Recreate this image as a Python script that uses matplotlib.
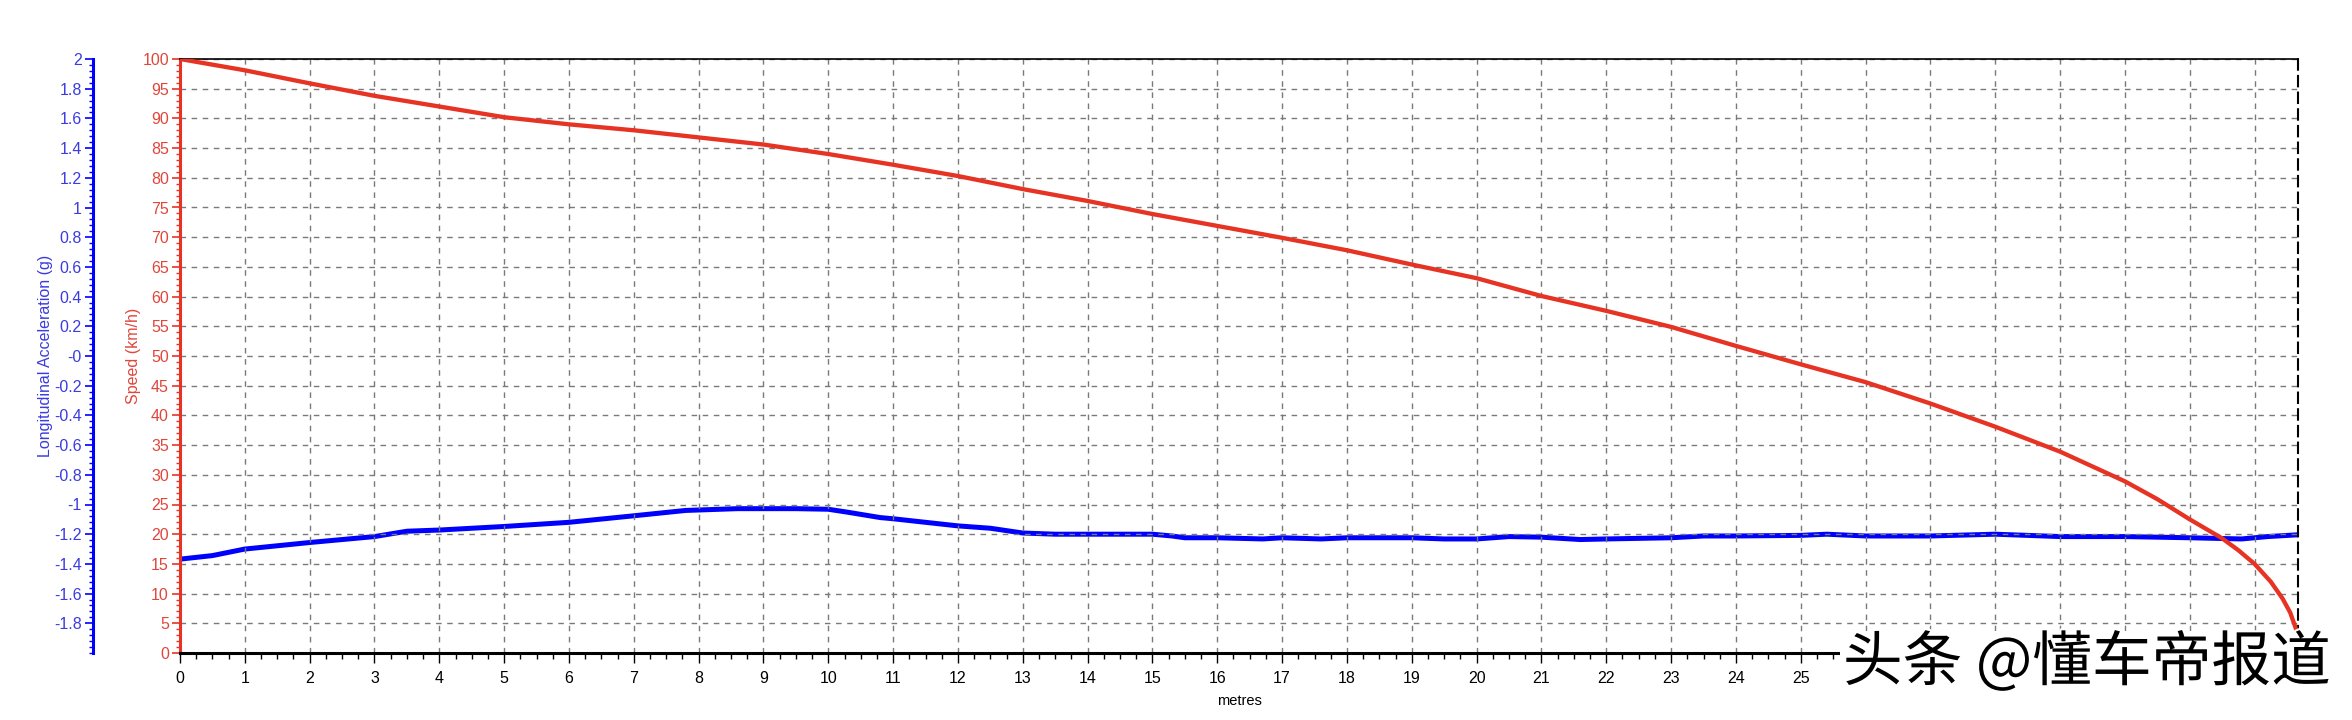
import numpy as np
import matplotlib
matplotlib.use('Agg')
import matplotlib.pyplot as plt
import matplotlib.patheffects as pe
from matplotlib.ticker import MultipleLocator, FixedLocator, FormatStrFormatter

plt.rcParams['font.family'] = ['Liberation Sans', 'DejaVu Sans']
plt.rcParams['axes.unicode_minus'] = False

# distance (metres) vs speed (km/h)
dist_speed = [0, 1, 2, 3, 4, 5, 6, 7, 8, 9, 10, 11, 12, 13, 14, 15, 16, 17, 18, 19, 20,
              21, 22, 23, 24, 25, 26, 27, 28, 29, 30, 30.5, 31, 31.5, 31.75, 32, 32.25,
              32.43, 32.55, 32.68]
speed = [100, 98.1, 95.9, 93.8, 92.0, 90.2, 89.0, 88.0, 86.8, 85.6, 84.0, 82.2, 80.3, 78.1,
         76.1, 73.9, 71.9, 69.9, 67.8, 65.4, 63.1, 60.1, 57.6, 54.9, 51.7, 48.6, 45.6, 42.0,
         38.1, 33.9, 28.9, 25.9, 22.5, 19.3, 17.3, 15.0, 12.0, 9.2, 6.8, 2.8]

# distance (metres) vs longitudinal acceleration (g)
dist_acc = [0, 0.5, 1, 2, 3, 3.5, 4, 5, 6, 7, 7.8, 8.6, 9.5, 10, 10.3, 10.8, 11, 12, 12.5,
            13, 13.5, 14, 15, 15.3, 15.5, 16, 16.7, 17, 17.6, 18, 19, 19.5, 20, 20.5, 21,
            21.6, 22, 23, 23.5, 24, 25, 25.4, 26, 27, 28, 29, 30, 31, 31.8, 32.2, 32.67]
accel = [-1.368, -1.344, -1.30, -1.256, -1.216, -1.18, -1.172, -1.148, -1.12, -1.076, -1.04,
         -1.028, -1.028, -1.032, -1.052, -1.088, -1.096, -1.144, -1.16, -1.192, -1.20, -1.20,
         -1.20, -1.212, -1.224, -1.224, -1.232, -1.224, -1.232, -1.224, -1.224, -1.232,
         -1.232, -1.216, -1.22, -1.236, -1.232, -1.224, -1.212, -1.212, -1.208, -1.20,
         -1.212, -1.212, -1.20, -1.216, -1.216, -1.224, -1.232, -1.216, -1.204]

x_ticks = list(range(0, 33))
# labels past 25 sit under the watermark in the source image
x_labels = [str(t) if t <= 25 else '' for t in x_ticks]
speed_ticks = list(range(0, 101, 5))
acc_ticks = [round(v, 1) for v in np.arange(-1.8, 2.01, 0.2)]

red = '#e63323'
red_txt = '#e0463c'
blue = '#0000ff'
blue_txt = '#3b3be0'

fig = plt.figure(figsize=(23.52, 7.2), dpi=100)
ax = fig.add_axes([180 / 2352, 1 - 653 / 720, (2298 - 180) / 2352, (653 - 59) / 720])
ax2 = ax.twinx()
ax.set_zorder(ax2.get_zorder() + 1)
ax.patch.set_visible(False)

# speed axis (red)
ax.plot(dist_speed, speed, color=red, lw=3.1, solid_capstyle='butt', zorder=5)
ax.set_xlim(0, 32.67)
ax.set_ylim(0, 100)
ax.xaxis.set_major_locator(FixedLocator(x_ticks))
ax.set_xticklabels(x_labels)
ax.xaxis.set_minor_locator(MultipleLocator(0.25))
ax.yaxis.set_major_locator(FixedLocator(speed_ticks))
ax.yaxis.set_minor_locator(MultipleLocator(1))
ax.grid(True, which='major', color='#7a7a7a', linestyle=(0, (4, 4)), lw=1.0)
ax.tick_params(axis='y', which='major', colors=red, labelcolor=red_txt, length=6, width=1.2,
               labelsize=11.5, pad=2)
ax.tick_params(axis='y', which='minor', colors=red, length=3, width=1)
ax.tick_params(axis='x', which='major', colors='black', length=7, width=1, labelsize=11.5, pad=6)
ax.tick_params(axis='x', which='minor', colors='black', length=4, width=1)
ax.spines['left'].set_color(red)
ax.spines['left'].set_linewidth(2.2)
ax.spines['bottom'].set_color('black')
ax.spines['bottom'].set_linewidth(2.2)
ax.spines['top'].set_linewidth(1.2)
ax.spines['right'].set_linestyle((0, (5, 3)))
ax.spines['right'].set_linewidth(1.5)
ax.set_ylabel('Speed (km/h)', color=red_txt, fontsize=11.5, labelpad=1)
ax.set_xlabel('metres', fontsize=10.5, labelpad=6)

# acceleration axis (blue), offset to the left
ax2.plot(dist_acc, accel, color=blue, lw=3.6, zorder=4)
ax2.set_ylim(-2, 2)
ax2.yaxis.set_ticks_position('left')
ax2.yaxis.set_label_position('left')
ax2.spines['left'].set_position(('axes', -0.0412))
ax2.spines['left'].set_color(blue)
ax2.spines['left'].set_linewidth(2.2)
for s in ['right', 'top', 'bottom']:
    ax2.spines[s].set_visible(False)
ax2.yaxis.set_major_locator(FixedLocator(acc_ticks))
ax2.yaxis.set_minor_locator(MultipleLocator(0.04))
ax2.yaxis.set_major_formatter(FormatStrFormatter('%g'))
ax2.tick_params(axis='y', which='major', colors=blue, labelcolor=blue_txt, length=6, width=1.2,
                labelsize=11.5, pad=2)
ax2.tick_params(axis='y', which='minor', colors=blue, length=3, width=1)
ax2.set_ylabel('Longitudinal Acceleration (g)', color=blue_txt, fontsize=11.5, labelpad=0.5)

# watermark
fig.text(2087 / 2352, 1 - 664 / 720, '头条 @懂车帝报道', fontsize=43,
         family=['Noto Sans CJK SC', 'DejaVu Sans'], color='black', ha='center', va='center',
         bbox=dict(facecolor='white', edgecolor='none', pad=2),
         path_effects=[pe.withStroke(linewidth=3, foreground='white')], zorder=20)

fig.savefig('out.png', dpi=100)
